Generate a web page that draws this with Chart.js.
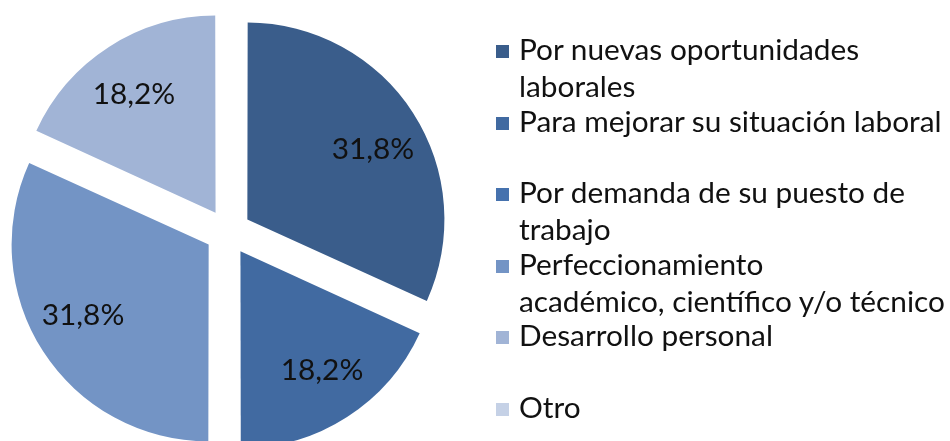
<!DOCTYPE html>
<html>
<head>
<meta charset="utf-8">
<script src="https://cdn.jsdelivr.net/npm/chart.js@4.4.1/dist/chart.umd.min.js"></script>
<style>
  html, body { margin: 0; padding: 0; background: #fff; width: 950px; height: 441px; overflow: hidden; }
  #wrap { position: absolute; left: 0; top: 0; width: 950px; height: 464px; }
  #legend { position: absolute; left: 0; top: 0; width: 950px; height: 441px; font-family: Lato, sans-serif; color: #111; }
  .item { position: absolute; left: 496px; }
  .sw { position: absolute; left: 0; top: 0; width: 13px; height: 13px; }
  .tx { position: absolute; left: 23px; white-space: nowrap; font-size: 29.8px; line-height: 37px; }
</style>
</head>
<body>
<div id="wrap"><canvas id="c" width="950" height="464"></canvas></div>
<div id="legend"></div>
<script>
// ---- data ----
const categories = [
  ["Por nuevas oportunidades", "laborales"],
  ["Para mejorar su situación laboral"],
  ["Por demanda de su puesto de", "trabajo"],
  ["Perfeccionamiento", "académico, científico y/o técnico"],
  ["Desarrollo personal"],
  ["Otro"]
];
const values = [31.8, 18.2, 0, 31.8, 18.2, 0];
const colors = ["#3A5D8B", "#416AA1", "#4672AE", "#7394C5", "#A1B4D6", "#C5D1E6"];

// ---- layout / style constants ----
const SHIFT = 23;          // px each slice is pulled out
const RADIUS = 195;
const LABEL_DIST = 167;
const LABEL_TURN_DEG = [3, -1.5, 0, 3, -1.5, 0];   // small label placement nudges
const FONT = "29.8px Lato, sans-serif";

const labelPlugin = {
  id: 'pctLabels',
  afterDatasetsDraw(chart) {
    const ctx = chart.ctx;
    const meta = chart.getDatasetMeta(0);
    ctx.save();
    ctx.font = FONT;
    ctx.fillStyle = '#111';
    ctx.textAlign = 'center';
    ctx.textBaseline = 'middle';
    meta.data.forEach((arc, i) => {
      const v = values[i];
      if (!v) return;
      const mid = (arc.startAngle + arc.endAngle) / 2 + LABEL_TURN_DEG[i] * Math.PI / 180;
      const x = arc.x + Math.cos(mid) * LABEL_DIST;
      const y = arc.y + Math.sin(mid) * LABEL_DIST;
      ctx.fillText(v.toFixed(1).replace('.', ',') + '%', x, y);
    });
    ctx.restore();
  }
};

new Chart(document.getElementById('c'), {
  type: 'pie',
  data: {
    labels: categories.map(l => l.join(' ')),
    datasets: [{
      data: values,
      backgroundColor: colors,
      borderWidth: 0,
      offset: SHIFT * 4,
      hoverOffset: 0
    }]
  },
  options: {
    responsive: false,
    animation: false,
    radius: RADIUS,
    layout: { padding: { left: 0, top: 0, bottom: 0, right: 494 } },
    plugins: { legend: { display: false }, tooltip: { enabled: false } },
    events: []
  },
  plugins: [labelPlugin]
});

// ---- HTML legend ----
const leg = document.getElementById('legend');
const SLOT0 = 45, SLOT = 71.6;
categories.forEach((lines, i) => {
  const item = document.createElement('div');
  item.className = 'item';
  item.style.top = (SLOT0 + i * SLOT) + 'px';
  const sw = document.createElement('div');
  sw.className = 'sw';
  sw.style.background = colors[i];
  const tx = document.createElement('div');
  tx.className = 'tx';
  tx.style.top = '-15px';
  lines.forEach((ln) => {
    const d = document.createElement('div');
    d.textContent = ln;
    tx.appendChild(d);
  });
  item.appendChild(sw);
  item.appendChild(tx);
  leg.appendChild(item);
});
</script>
</body>
</html>
